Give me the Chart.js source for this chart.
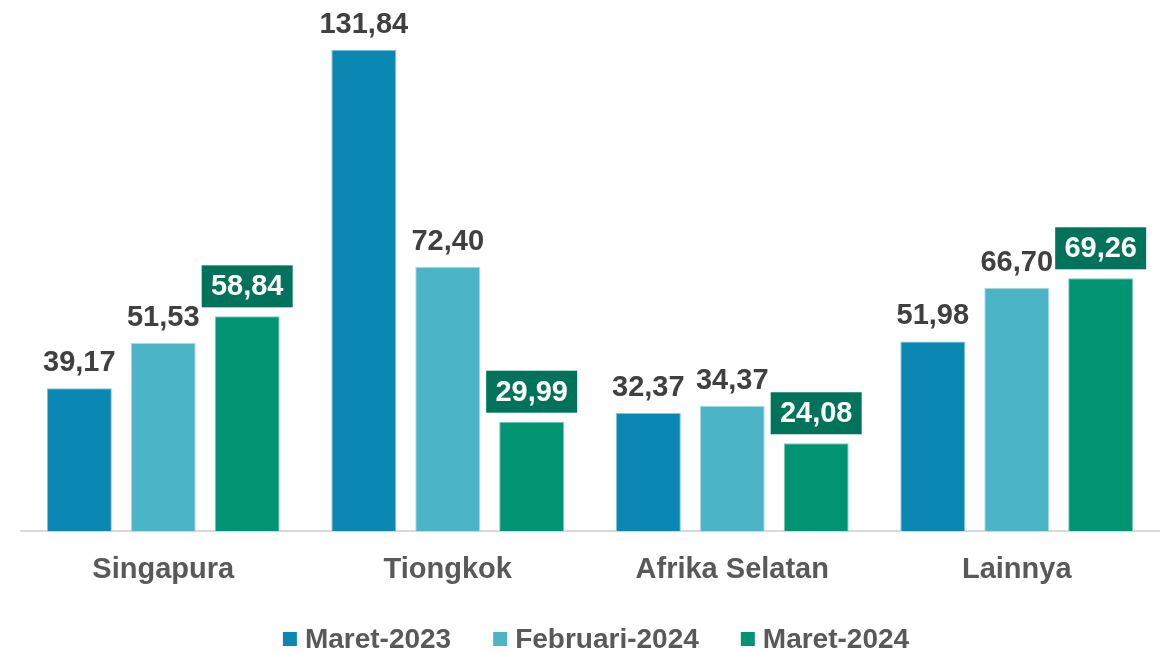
<!DOCTYPE html>
<html>
<head>
<meta charset="utf-8">
<script src="https://cdn.jsdelivr.net/npm/chart.js@4.4.1/dist/chart.umd.min.js"></script>
<style>
  body { margin: 0; background: #fff; }
  #wrap { width: 1166px; height: 652px; position: relative; }
</style>
</head>
<body>
<div id="wrap"><canvas id="chart"></canvas></div>
<script>
// categories and series
var negara = ['Singapura', 'Tiongkok', 'Afrika Selatan', 'Lainnya'];
var maret2023 = [39.17, 131.84, 32.37, 51.98];
var februari2024 = [51.53, 72.40, 34.37, 66.70];
var maret2024 = [58.84, 29.99, 24.08, 69.26];

var FONT = '"Liberation Sans", Arial, sans-serif';

function formatAngka(v) {
    return v.toFixed(2).replace('.', ',');
}

// value labels above each bar; the last series gets a dark green box
var labelPlugin = {
    id: 'barLabels',
    afterDatasetsDraw: function (chart) {
        var ctx = chart.ctx;
        ctx.save();
        ctx.font = 'bold 29px ' + FONT;
        ctx.textAlign = 'center';
        chart.data.datasets.forEach(function (ds, di) {
            var meta = chart.getDatasetMeta(di);
            meta.data.forEach(function (bar, i) {
                var txt = formatAngka(ds.data[i]);
                if (di == 2) {
                    var w = 91, h = 42;
                    var cy = bar.y - 30;
                    ctx.fillStyle = '#00735A';
                    ctx.fillRect(bar.x - w / 2, cy - h / 2, w, h);
                    ctx.fillStyle = '#ffffff';
                    ctx.textBaseline = 'middle';
                    ctx.fillText(txt, bar.x, cy + 1);
                } else {
                    ctx.fillStyle = '#404040';
                    ctx.textBaseline = 'alphabetic';
                    ctx.fillText(txt, bar.x, bar.y - 17);
                }
            });
        });
        ctx.restore();
    }
};

// legend along the bottom: square marker, short gap, wide spacing between items
var legendPlugin = {
    id: 'bottomLegend',
    afterDraw: function (chart) {
        var ctx = chart.ctx;
        var box = 14, gap = 8, space = 42;
        var y = 639;
        ctx.save();
        ctx.font = 'bold 28px ' + FONT;
        var items = chart.data.datasets.map(function (ds) {
            return { text: ds.label, color: ds.backgroundColor, w: ctx.measureText(ds.label).width };
        });
        var total = 0;
        items.forEach(function (it, i) {
            total += box + gap + it.w + (i > 0 ? space : 0);
        });
        var x = 596 - total / 2;
        ctx.textBaseline = 'middle';
        ctx.textAlign = 'left';
        items.forEach(function (it) {
            ctx.fillStyle = it.color;
            ctx.fillRect(x, y - box / 2, box, box);
            ctx.fillStyle = '#595959';
            ctx.fillText(it.text, x + box + gap, y + 1);
            x += box + gap + it.w + space;
        });
        ctx.restore();
    }
};

var ctx = document.getElementById('chart').getContext('2d');
var chart = new Chart(ctx, {
    type: 'bar',
    data: {
        labels: negara,
        datasets: [
            {
                label: 'Maret-2023',
                data: maret2023,
                backgroundColor: '#0A87B2',
                borderColor: '#7fc3dc',
                borderWidth: 1
            },
            {
                label: 'Februari-2024',
                data: februari2024,
                backgroundColor: '#4BB4C6',
                borderColor: '#a9dbe4',
                borderWidth: 1
            },
            {
                label: 'Maret-2024',
                data: maret2024,
                backgroundColor: '#009473',
                borderColor: '#7fcab8',
                borderWidth: 1
            }
        ]
    },
    options: {
        responsive: true,
        maintainAspectRatio: false,
        animation: false,
        layout: { padding: { left: 21, right: 7, top: 20, bottom: 52 } },
        datasets: {
            bar: { categoryPercentage: 0.885, barPercentage: 0.774 }
        },
        scales: {
            x: {
                grid: { display: false },
                border: { color: '#d9d9d9', width: 2 },
                ticks: {
                    color: '#595959',
                    font: { family: FONT, size: 29, weight: 'bold' },
                    padding: 13
                }
            },
            y: {
                display: false,
                min: 0,
                max: 140
            }
        },
        plugins: {
            legend: { display: false },
            tooltip: { enabled: false }
        }
    },
    plugins: [labelPlugin, legendPlugin]
});
</script>
</body>
</html>
